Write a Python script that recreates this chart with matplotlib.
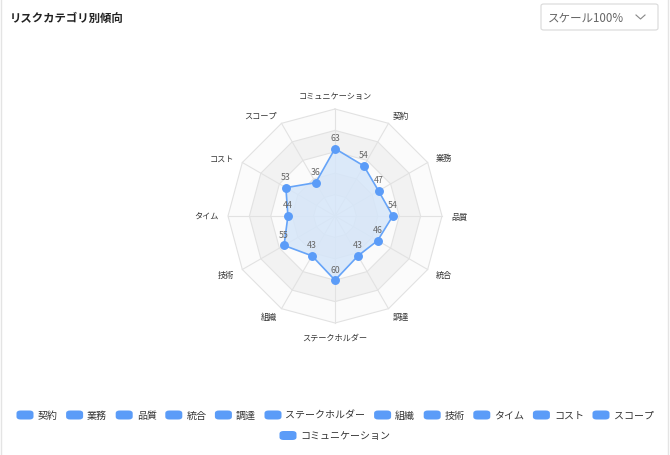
import numpy as np
import matplotlib
matplotlib.use("Agg")
import matplotlib.pyplot as plt
from matplotlib.patches import FancyBboxPatch
from matplotlib.lines import Line2D

plt.rcParams['font.family'] = ['Noto Sans CJK JP', 'DejaVu Sans']

# ---- data (chart order, clockwise from top) ----
categories = ['コミュニケーション', '契約', '業務', '品質', '統合', '調達',
              'ステークホルダー', '組織', '技術', 'タイム', 'コスト', 'スコープ']
values = [63, 54, 47, 54, 46, 43, 60, 43, 55, 44, 53, 36]
legend_labels = ['契約', '業務', '品質', '統合', '調達', 'ステークホルダー', '組織',
                 '技術', 'タイム', 'コスト', 'スコープ', 'コミュニケーション']
max_value = 100
levels = [20, 40, 60, 80, 100]
title = 'リスクカテゴリ別傾向'
dropdown_text = 'スケール100%'

W, H = 670, 456
fig = plt.figure(figsize=(W / 100, H / 100), dpi=100)
fig.patch.set_facecolor('white')

def fx(px):
    return px / W

def fy(py):
    return 1 - py / H

# card borders
fig.add_artist(Line2D([fx(0.5), fx(0.5)], [0, 1], color='#e4e4e4', lw=1))
fig.add_artist(Line2D([fx(667.5), fx(667.5)], [0, 1], color='#e4e4e4', lw=1))

# title
fig.text(fx(10), fy(18), title, fontsize=8.2, fontweight='bold', color='#222222',
         ha='left', va='center')

# dropdown
box = FancyBboxPatch((fx(541), fy(31)), fx(117), 26 / H,
                     boxstyle='round,pad=0,rounding_size=0.004',
                     transform=fig.transFigure, facecolor='white',
                     edgecolor='#d9d9d9', lw=0.8)
fig.add_artist(box)
fig.text(fx(548), fy(18.5), dropdown_text, fontsize=8.3, color='#666666',
         ha='left', va='center')
fig.add_artist(Line2D([fx(636), fx(640.5), fx(645)], [fy(16), fy(20), fy(16)],
                      color='#888888', lw=0.8))

# radar
cx, cy, R = 335, 217, 107
ax = fig.add_axes([fx(cx - R), fy(cy + R), 2 * R / W, 2 * R / H], projection='polar')
ax.set_theta_zero_location('N')
ax.set_theta_direction(-1)
ax.set_ylim(0, max_value)
ax.set_axis_off()

n = len(categories)
angles = np.arange(n) * 2 * np.pi / n
closed = np.concatenate([angles, angles[:1]])

band_colors = ['#fbfbfb', '#f2f2f2']
for i, lv in reversed(list(enumerate(levels))):
    ax.fill(closed, [lv] * (n + 1), color=band_colors[i % 2], lw=0, zorder=1)
for lv in levels:
    ax.plot(closed, [lv] * (n + 1), color='#e2e2e2', lw=0.8, zorder=2, clip_on=False)
for a in angles:
    ax.plot([a, a], [0, max_value], color='#e2e2e2', lw=0.8, zorder=2, clip_on=False)

vals_closed = values + values[:1]
color = '#5B9CF8'
ax.fill(closed, vals_closed, color='#d6e6f9', alpha=0.85, lw=0, zorder=3)
ax.plot(closed, vals_closed, color='#66a4f8', lw=1.2, zorder=4, clip_on=False)
ax.plot(angles, values, 'o', color=color, markersize=5.4, zorder=5, clip_on=False)

for a, v in zip(angles, values):
    ax.annotate(str(v), (a, v), xytext=(0, 11), textcoords='offset pixels',
                ha='center', va='center', fontsize=6.3, color='#666666', zorder=6)

label_r = max_value * 1.085
for a, name in zip(angles, categories):
    s, c = np.sin(a), np.cos(a)
    ha = 'center' if abs(s) < 1e-4 else ('left' if s > 0 else 'right')
    if abs(s) < 1e-4:
        va = 'bottom' if c > 0 else 'top'
    else:
        va = 'center'
    ax.text(a, label_r, name, ha=ha, va=va, fontsize=5.9, color='#333333')

# legend (custom layout, centered rows)
renderer = fig.canvas.get_renderer()
leg_fs = 7.2
icon_w, icon_h, icon_gap, item_gap = 17, 9, 4, 8.6
max_row_w = 650
texts = []
widths = []
for lab in legend_labels:
    t = fig.text(0, 0, lab, fontsize=leg_fs, color='#333333', ha='left', va='center')
    bb = t.get_window_extent(renderer)
    texts.append(t)
    widths.append(icon_w + icon_gap + bb.width)
rows, cur, cur_w = [], [], 0
for i, w in enumerate(widths):
    add = w if not cur else w + item_gap
    if cur and cur_w + add > max_row_w:
        rows.append(cur)
        cur, cur_w = [], 0
        add = w
    cur.append(i)
    cur_w += add
if cur:
    rows.append(cur)
row_y0, row_dy = 416, 20.5
for r, row in enumerate(rows):
    total = sum(widths[i] for i in row) + item_gap * (len(row) - 1)
    x = cx - total / 2
    y = row_y0 + r * row_dy
    for i in row:
        ic = FancyBboxPatch((fx(x), fy(y + icon_h / 2)), fx(icon_w), icon_h / H,
                            boxstyle='round,pad=0,rounding_size=0.006',
                            transform=fig.transFigure, facecolor=color, edgecolor='none')
        fig.add_artist(ic)
        texts[i].set_position((fx(x + icon_w + icon_gap), fy(y)))
        x += widths[i] + item_gap

fig.savefig('out.png', dpi=100, facecolor='white')
